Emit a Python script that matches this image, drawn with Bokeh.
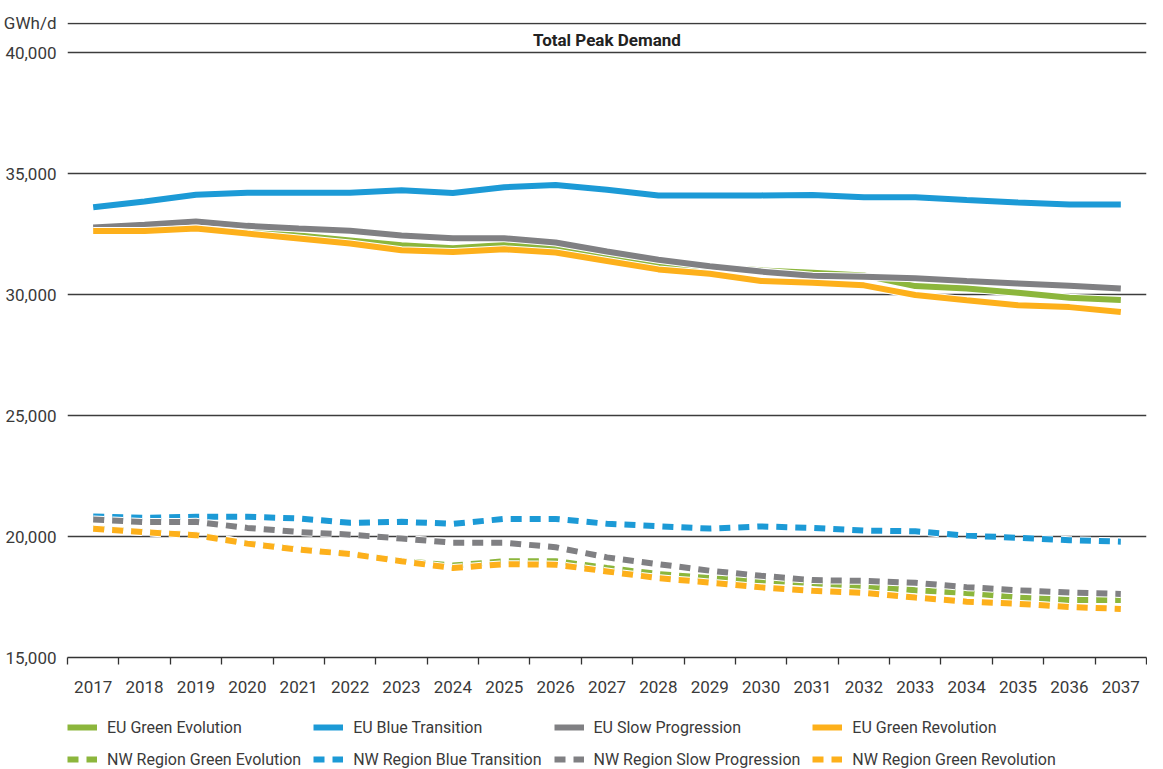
from bokeh.plotting import figure
from bokeh.layouts import column
from bokeh.models import (FixedTicker, CustomJSTickFormatter, Legend, LegendItem,
                          Label, Range1d)
from bokeh.embed import file_html
from bokeh.resources import INLINE

# ---------------- data ----------------
years = list(range(2017, 2038))

eu_green_evolution = [32700, 32700, 32850, 32650, 32450, 32250, 32050, 31920, 32060, 31950, 31610,
                      31230, 31150, 31010, 30910, 30800, 30360, 30260, 30080, 29880, 29780]
eu_blue_transition = [33620, 33860, 34140, 34220, 34220, 34220, 34320, 34210, 34450, 34540, 34340,
                      34110, 34110, 34110, 34130, 34030, 34030, 33920, 33820, 33730, 33730]
eu_slow_progression = [32780, 32900, 33030, 32850, 32740, 32650, 32450, 32340, 32340, 32160, 31790,
                       31450, 31180, 30960, 30790, 30750, 30680, 30570, 30470, 30370, 30260]
eu_green_revolution = [32640, 32640, 32740, 32530, 32330, 32120, 31840, 31770, 31880, 31750, 31400,
                       31050, 30870, 30570, 30500, 30390, 29990, 29770, 29570, 29490, 29290]

nw_green_evolution = [20340, 20200, 20080, 19730, 19480, 19300, 19000, 18800, 18980, 18980, 18700,
                      18450, 18280, 18190, 18080, 17950, 17780, 17670, 17480, 17380, 17380]
nw_blue_transition = [20830, 20780, 20820, 20820, 20750, 20570, 20610, 20530, 20730, 20730, 20530,
                      20430, 20330, 20420, 20360, 20250, 20220, 20040, 19950, 19850, 19790]
nw_slow_progression = [20710, 20600, 20610, 20360, 20190, 20080, 19920, 19750, 19750, 19560, 19140,
                       18860, 18590, 18380, 18200, 18170, 18090, 17910, 17780, 17690, 17630]
nw_green_revolution = [20320, 20180, 20060, 19710, 19460, 19280, 18980, 18700, 18860, 18840, 18560,
                       18280, 18100, 17900, 17760, 17670, 17480, 17310, 17220, 17090, 17010]

y_ticks = [15000, 20000, 25000, 30000, 35000, 40000, 41230]
title_text = "Total Peak Demand"
unit_text = "GWh/d"

# ---------------- style ----------------
FONT = "Roboto"
TXT = "#3a3a3a"
GREEN = "#8cb63c"
BLUE = "#1c9ad6"
GRAY = "#808083"
ORANGE = "#fdb01b"
DASH = "11 8"
LW = 6

p = figure(width=1147, height=705, output_backend="svg", toolbar_location=None,
           x_range=Range1d(2016.5, 2037.5), y_range=Range1d(15000, 41260),
           min_border_left=56, min_border_right=1, min_border_top=22, min_border_bottom=48)
p.outline_line_color = None
p.background_fill_color = "white"

# axes
p.xaxis.ticker = FixedTicker(ticks=years, minor_ticks=[y - 0.5 for y in years] + [years[-1] + 0.5])
p.xaxis.formatter = CustomJSTickFormatter(code="return tick.toFixed(0)")
p.xaxis.major_tick_line_color = None
p.xaxis.major_tick_out = 0
p.xaxis.major_tick_in = 0
p.xaxis.minor_tick_line_color = "#333333"
p.xaxis.minor_tick_line_width = 1.3
p.xaxis.minor_tick_out = 7
p.xaxis.minor_tick_in = 0
p.xaxis.axis_line_color = "#333333"
p.xaxis.axis_line_width = 1.6
p.xaxis.major_label_standoff = 16
p.xaxis.major_label_text_font = FONT
p.xaxis.major_label_text_font_size = "17px"
p.xaxis.major_label_text_color = TXT

p.yaxis.ticker = FixedTicker(ticks=y_ticks)
p.yaxis.formatter = CustomJSTickFormatter(
    code="return tick > 40500 ? '%s' : tick.toLocaleString('en-US')" % unit_text)
p.yaxis.axis_line_color = None
p.yaxis.major_tick_line_color = None
p.yaxis.minor_tick_line_color = None
p.yaxis.major_tick_out = 0
p.yaxis.major_label_standoff = 11
p.yaxis.major_label_text_font = FONT
p.yaxis.major_label_text_font_size = "17px"
p.yaxis.major_label_text_color = TXT

p.xgrid.grid_line_color = None
p.ygrid.grid_line_color = "#3c3c3c"
p.ygrid.grid_line_width = 1.3

# title inside plot
p.add_layout(Label(x=(years[0] + years[-1]) / 2, y=40520, text=title_text,
                   text_align="center", text_baseline="middle",
                   text_font=FONT, text_font_size="17px", text_font_style="bold",
                   text_color="#222222"))

series = [
    ("EU Green Evolution", eu_green_evolution, GREEN, "solid"),
    ("EU Blue Transition", eu_blue_transition, BLUE, "solid"),
    ("EU Slow Progression", eu_slow_progression, GRAY, "solid"),
    ("EU Green Revolution", eu_green_revolution, ORANGE, "solid"),
    ("NW Region Green Evolution", nw_green_evolution, GREEN, DASH),
    ("NW Region Blue Transition", nw_blue_transition, BLUE, DASH),
    ("NW Region Slow Progression", nw_slow_progression, GRAY, DASH),
    ("NW Region Green Revolution", nw_green_revolution, ORANGE, DASH),
]

# legend figure (its lines lie outside its view; only the legend shows)
lg = figure(width=1147, height=64, output_backend="svg", toolbar_location=None,
            x_range=Range1d(0, 1), y_range=Range1d(0, 1),
            x_axis_type=None, y_axis_type=None,
            min_border_left=56, min_border_right=1, min_border_top=0, min_border_bottom=0)
lg.outline_line_color = None
lg.xgrid.grid_line_color = None
lg.ygrid.grid_line_color = None

items = []
for name, vals, col, dash in series:
    p.line(years, vals, line_color="white", line_width=LW + 2, line_dash=dash)
    p.line(years, vals, line_color=col, line_width=LW, line_dash=dash)
    r = lg.line(years, vals, line_color=col, line_width=LW, line_dash=dash)
    items.append(LegendItem(label=name, renderers=[r]))

legend = Legend(items=items, orientation="horizontal", nrows=2, location=(0, 0),
                border_line_color=None, background_fill_alpha=0,
                padding=0, margin=0, glyph_width=30, glyph_height=20, label_height=20,
                label_standoff=10, spacing=12,
                label_text_font=FONT, label_text_font_size="16px", label_text_color=TXT)
lg.add_layout(legend)

layout = column(p, lg, spacing=0)
open("out.html", "w").write(file_html(layout, INLINE))
